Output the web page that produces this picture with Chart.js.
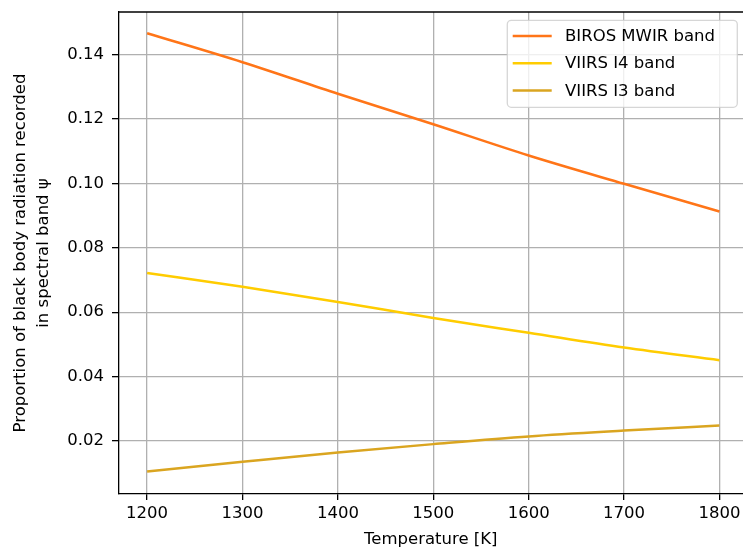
<!DOCTYPE html>
<html>
<head>
<meta charset="utf-8">
<script src="https://cdn.jsdelivr.net/npm/chart.js@4/dist/chart.umd.min.js"></script>
<style>
    html, body { margin: 0; padding: 0; background: #fff; overflow: hidden; }
    #wrap { width: 743px; height: 551px; position: relative; }
</style>
</head>
<body>
<div id="wrap"><canvas id="bandChart" width="743" height="551"></canvas></div>
<script>
// Данные графика
const temps = [1200, 1300, 1400, 1500, 1600, 1700, 1800];
const birosMwir = [0.1467, 0.1377, 0.1279, 0.1184, 0.1087, 0.0999, 0.0913];
const viirsI4 = [0.0722, 0.0679, 0.0632, 0.0582, 0.0536, 0.0490, 0.0451];
const viirsI3 = [0.0105, 0.0135, 0.0164, 0.0190, 0.0214, 0.0232, 0.0248];

const seriesNames = ['BIROS MWIR band', 'VIIRS I4 band', 'VIIRS I3 band'];
const seriesColors = ['#ff7518', '#ffcc00', '#daa520'];

const xTicks = [1200, 1300, 1400, 1500, 1600, 1700, 1800];
const yTicks = [0.02, 0.04, 0.06, 0.08, 0.10, 0.12, 0.14];

const FONT = 'DejaVu Sans';

// Собираем точки для линейной оси
function toPoints(values) {
    return temps.map((t, i) => ({ x: t, y: values[i] }));
}

// Верхняя рамка (правая обрезана в оригинале)
const framePlugin = {
    id: 'frame',
    afterDatasetsDraw(chart) {
        const { ctx, chartArea } = chart;
        ctx.save();
        ctx.strokeStyle = '#000';
        ctx.lineWidth = 1.3;
        ctx.beginPath();
        ctx.moveTo(chartArea.left, chartArea.top);
        ctx.lineTo(chartArea.right, chartArea.top);
        ctx.stroke();
        ctx.restore();
    }
};

// Легенда в правом верхнем углу
const legendPlugin = {
    id: 'boxLegend',
    afterDraw(chart) {
        const { ctx, chartArea } = chart;
        const w = 230, h = 87;
        const x = 507.3;
        const y = chartArea.top + 8.3;
        ctx.save();
        ctx.beginPath();
        ctx.roundRect(x, y, w, h, 4);
        ctx.fillStyle = 'rgba(255,255,255,0.8)';
        ctx.fill();
        ctx.strokeStyle = 'rgba(204,204,204,0.8)';
        ctx.lineWidth = 1.3;
        ctx.stroke();

        ctx.font = '16.5px "' + FONT + '"';
        ctx.textBaseline = 'middle';
        ctx.fillStyle = '#000';
        chart.data.datasets.forEach((ds, i) => {
            const cy = y + 15.7 + i * 27.2;
            ctx.strokeStyle = ds.borderColor;
            ctx.lineWidth = 2.5;
            ctx.beginPath();
            ctx.moveTo(x + 5.4, cy);
            ctx.lineTo(x + 44.4, cy);
            ctx.stroke();
            ctx.fillText(ds.label, x + 57.7, cy + 1);
        });
        ctx.restore();
    }
};

const ctx = document.getElementById('bandChart').getContext('2d');
const chart = new Chart(ctx, {
    type: 'line',
    data: {
        datasets: [birosMwir, viirsI4, viirsI3].map((vals, i) => ({
            label: seriesNames[i],
            data: toPoints(vals),
            borderColor: seriesColors[i],
            backgroundColor: seriesColors[i],
            borderWidth: 2.5,
            pointRadius: 0,
            cubicInterpolationMode: 'monotone',
            fill: false
        }))
    },
    options: {
        responsive: false,
        devicePixelRatio: 1,
        animation: false,
        layout: { padding: { top: 12, right: 0, left: 0, bottom: 0 } },
        plugins: {
            legend: { display: false },
            tooltip: { enabled: false }
        },
        scales: {
            x: {
                type: 'linear',
                min: 1170,
                max: 1824.7,
                afterFit: (scale) => {
                    scale.height = 57;
                    scale.paddingLeft = 0;
                    scale.paddingRight = 0;
                },
                afterBuildTicks: (scale) => { scale.ticks = xTicks.map(v => ({ value: v })); },
                grid: { color: '#b0b0b0', lineWidth: 1.3, tickColor: '#000', tickWidth: 1.3, tickLength: 6 },
                border: { color: '#000', width: 1.3 },
                ticks: {
                    color: '#000',
                    padding: 4,
                    maxRotation: 0,
                    font: { family: FONT, size: 16.5 },
                    callback: (v) => String(v)
                },
                title: {
                    display: true,
                    text: 'Temperature [K]',
                    color: '#000',
                    font: { family: FONT, size: 16.5 },
                    padding: { top: 0, bottom: 1.6 }
                }
            },
            y: {
                type: 'linear',
                min: 0.0035,
                max: 0.1533,
                afterFit: (scale) => {
                    scale.width = 118.5;
                    scale.paddingTop = 0;
                    scale.paddingBottom = 0;
                },
                afterBuildTicks: (scale) => { scale.ticks = yTicks.map(v => ({ value: v })); },
                grid: { color: '#b0b0b0', lineWidth: 1.3, tickColor: '#000', tickWidth: 1.3, tickLength: 6.5 },
                border: { color: '#000', width: 1.3 },
                ticks: {
                    color: '#000',
                    padding: 8,
                    font: { family: FONT, size: 16.5 },
                    callback: (v) => v.toFixed(2)
                },
                title: {
                    display: true,
                    text: ['Proportion of black body radiation recorded', 'in spectral band ψ'],
                    color: '#000',
                    font: { family: FONT, size: 16.5, lineHeight: 1.4 },
                    padding: { top: 9, bottom: 0 }
                }
            }
        }
    },
    plugins: [framePlugin, legendPlugin]
});
</script>
</body>
</html>
